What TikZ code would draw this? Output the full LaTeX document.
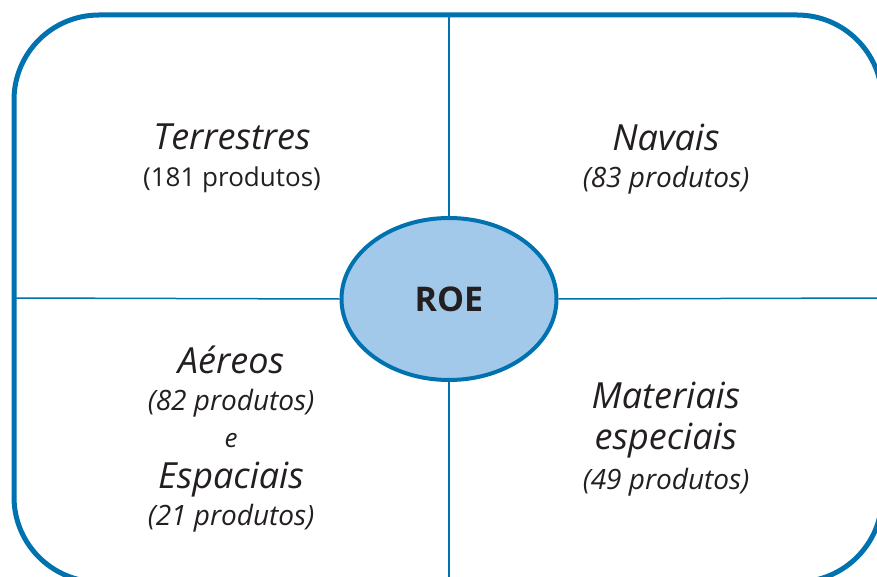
\documentclass[tikz,border=0pt]{standalone}
\usepackage{fontspec}
\setmainfont{Open Sans}
\usetikzlibrary{shapes.geometric}
\definecolor{roeblue}{RGB}{0,114,176}
\definecolor{roefill}{RGB}{163,201,234}
\definecolor{ink}{RGB}{35,31,32}
\tikzset{
  big/.style={text=ink,font=\fontsize{36}{40}\selectfont\itshape,inner sep=0pt},
  cnt/.style={text=ink,font=\fontsize{28}{32}\selectfont\itshape,inner sep=0pt},
  cntup/.style={text=ink,font=\fontsize{26}{30}\selectfont,inner sep=0pt},
  small/.style={text=ink,font=\fontsize{26}{28}\selectfont\itshape,inner sep=0pt},
  divider/.style={draw=roeblue,line width=1.5pt},
}
\begin{document}
\begin{tikzpicture}[x=1pt,y=-1pt]
\useasboundingbox (0,0) rectangle (877,577);
\clip (0,0) rectangle (877,577);
\fill[white] (0,0) rectangle (877,577);
% frame
\draw[roeblue,line width=5pt,rounded corners=85pt] (14,15) rectangle (882,582);
\coordinate (top) at (449,15);
\coordinate (bot) at (449,582);
\coordinate (lft) at (14,298);
\coordinate (rgt) at (882,298);
% central ellipse
\node[ellipse,draw=roeblue,line width=4pt,fill=roefill,minimum width=215pt,minimum height=162pt,inner sep=0pt,
  text=ink,font=\fontsize{34}{38}\selectfont\bfseries] (roe) at (449,299) {ROE};
\draw[divider] (top) -- (roe.north);
\draw[divider] (roe.south) -- (bot);
\draw[divider] (lft) -- (roe.west);
\draw[divider] (roe.east) -- (rgt);
% texts
\node[big] (t1) at (232,137) {Terrestres};
\node[cntup] (t2) at (232,180) {(181 produtos)};
\node[big] (n1) at (666,137) {Navais};
\node[cnt] (n2) at (666,180) {(83 produtos)};
\node[big] (a1) at (231,360) {Aéreos};
\node[cnt] (a2) at (231,403) {(82 produtos)};
\node[small] (a3) at (231,441) {e};
\node[big] (a4) at (231,480) {Espaciais};
\node[cnt] (a5) at (231,518) {(21 produtos)};
\node[big] (m1) at (666,395) {Materiais};
\node[big] (m2) at (666,441) {especiais};
\node[cnt] (m3) at (666,482) {(49 produtos)};
\end{tikzpicture}
\end{document}
